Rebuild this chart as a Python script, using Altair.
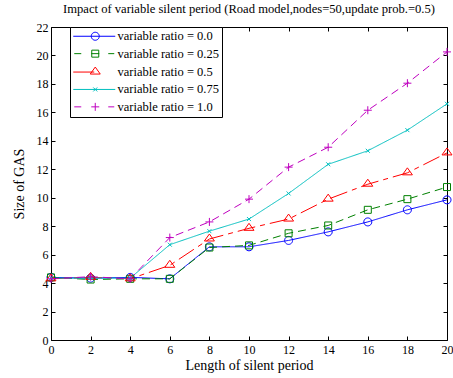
import math
import altair as alt
import pandas as pd

# ---- data ----
x_vals = [0, 2, 4, 6, 8, 10, 12, 14, 16, 18, 20]
names = ["variable ratio = 0.0", "variable ratio = 0.25", "variable ratio = 0.5",
         "variable ratio = 0.75", "variable ratio = 1.0"]
r00 = [4.4, 4.35, 4.4, 4.3, 6.55, 6.55, 7.0, 7.6, 8.3, 9.15, 9.85]
r025 = [4.4, 4.25, 4.3, 4.3, 6.5, 6.65, 7.5, 8.05, 9.15, 9.9, 10.75]
r05 = [4.3, 4.4, 4.3, 5.25, 7.1, 7.85, 8.5, 9.9, 10.95, 11.75, 13.15]
r075 = [4.35, 4.35, 4.35, 6.7, 7.65, 8.5, 10.3, 12.35, 13.3, 14.75, 16.6]
r10 = [4.3, 4.45, 4.3, 7.2, 8.3, 9.9, 12.15, 13.55, 16.15, 18.05, 20.25]
series = [r00, r025, r05, r075, r10]

colors = ["#0000FF", "#008000", "#FF0000", "#00BFBF", "#BF00BF"]
dashes = [[1, 0], [8, 5], [18, 5, 5, 5], [1, 0], [8, 5]]

rows = []
for n, vals in zip(names, series):
    for xv, yv in zip(x_vals, vals):
        rows.append({"series": n, "x": xv, "y": yv})
df = pd.DataFrame(rows)

W, H = 396, 313
FONT = "Liberation Serif"


def circle_path(r, n=24):
    pts = [(r * math.cos(2 * math.pi * i / n), r * math.sin(2 * math.pi * i / n)) for i in range(n)]
    return "M" + "L".join(f"{a:.2f},{b:.2f}" for a, b in pts) + "Z"


sq = "M-3.5,-3.5L3.5,-3.5L3.5,3.5L-3.5,3.5Z"
tri = "M0,-5L5,2L-5,2Z"
xm = "M-2,-2L2,2M-2,2L2,-2"
plus = "M-4,0L4,0M0,-4L0,4"
markers = [circle_path(4), sq, tri, xm, plus]

legend_paths = [
    "M-22,0L20,0" + circle_path(4),
    "M-21,0L-14,0M-4,0L4,0" + sq + "M13,0L19,0",
    "M-22,0L-1,0" + tri,
    "M-22,0L20,0" + xm,
    "M-21,0L-14,0M13,0L19,0" + plus,
]

xscale = alt.Scale(domain=[0, 20], nice=False, zero=False)
yscale = alt.Scale(domain=[0, 22], nice=False, zero=False)
xt = list(range(0, 21, 2))
yt = list(range(0, 23, 2))

tick_common = dict(labels=False, domain=False, grid=False, ticks=True, tickSize=4,
                   tickColor="black", tickWidth=1, title=None)

x_axes = [
    alt.Axis(orient="bottom", values=xt, ticks=False, domain=False, grid=False,
             labelPadding=4, labelFlush=False, labelOverlap=False, format="d",
             title="Length of silent period", titlePadding=3),
    alt.Axis(orient="top", offset=-H, values=xt, **tick_common),
    alt.Axis(orient="bottom", offset=-H, values=xt, **tick_common),
]
y_axes = [
    alt.Axis(orient="left", values=yt, ticks=False, domain=False, grid=False,
             labelPadding=3, labelFlush=False, labelOverlap=False, format="d",
             title="Size of GAS", titlePadding=10),
    alt.Axis(orient="right", offset=-W, values=yt, **tick_common),
    alt.Axis(orient="left", offset=-W, values=yt, **tick_common),
]

base = alt.Chart(df)
layers = []
for i, (n, c, d) in enumerate(zip(names, colors, dashes)):
    xa = x_axes[i] if i < 3 else None
    ya = y_axes[i] if i < 3 else None
    layers.append(
        base.transform_filter(alt.datum.series == n)
        .mark_line(color=c, strokeDash=d, strokeWidth=1)
        .encode(x=alt.X("x:Q", scale=xscale, axis=xa),
                y=alt.Y("y:Q", scale=yscale, axis=ya))
    )
for n, c, m in zip(names, colors, markers):
    layers.append(
        base.transform_filter(alt.datum.series == n)
        .mark_point(shape=m, size=4, color=c, filled=False, strokeWidth=1, opacity=1)
        .encode(x=alt.X("x:Q", scale=xscale, axis=None),
                y=alt.Y("y:Q", scale=yscale, axis=None))
    )

leg = alt.Legend(orient="none", legendX=19, legendY=0, title=None, padding=3,
                 symbolSize=4, symbolOffset=16, labelOffset=16, symbolStrokeWidth=1,
                 symbolOpacity=1,
                 labelFont=FONT, labelFontSize=12.5, labelColor="black", labelLimit=300,
                 rowPadding=4.4, strokeColor="black", fillColor="white")

layers.append(
    base.transform_filter("false")
    .mark_point(filled=False, strokeWidth=1, opacity=1)
    .encode(x=alt.X("x:Q", scale=xscale, axis=None),
            y=alt.Y("y:Q", scale=yscale, axis=None),
            color=alt.Color("series:N", scale=alt.Scale(domain=names, range=colors), legend=leg),
            shape=alt.Shape("series:N", scale=alt.Scale(domain=names, range=legend_paths), legend=leg))
)

chart = (
    alt.layer(*layers)
    .resolve_axis(x="independent", y="independent")
    .properties(
        width=W, height=H,
        autosize=alt.AutoSizeParams(type="none"),
        padding={"left": 51, "top": 27, "right": 6, "bottom": 38},
        title=alt.Title("Impact of variable silent period (Road model,nodes=50,update prob.=0.5)",
                        font=FONT, fontSize=12.6, fontWeight="normal", color="black",
                        anchor="middle", offset=5),
    )
    .configure_axis(labelFont=FONT, labelFontSize=12, labelColor="black",
                    titleFont=FONT, titleFontSize=14, titleFontWeight="normal",
                    titleColor="black")
    .configure_view(stroke="black", strokeWidth=1)
)

chart.save("out.html", embed_options={"renderer": "svg", "actions": False})
